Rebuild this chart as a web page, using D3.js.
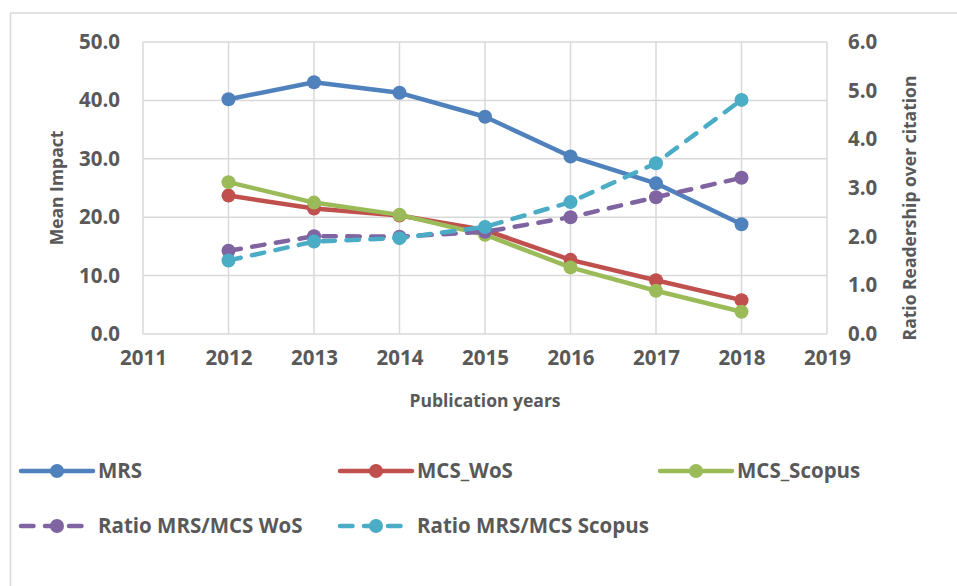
<!DOCTYPE html>
<html>
<head>
<meta charset="utf-8">
<script src="https://cdn.jsdelivr.net/npm/d3@7"></script>
<style>
  body { margin: 0; background: #fff; }
  svg { display: block; font-family: "Open Sans", sans-serif; }
  .tick text { fill: #595959; font-weight: 700; }
</style>
</head>
<body>
<div id="chart"></div>
<script>
(function() {
  // values
  var years = [2012, 2013, 2014, 2015, 2016, 2017, 2018];
  var mrs = [40.2, 43.1, 41.3, 37.2, 30.4, 25.8, 18.8];
  var mcsWos = [23.7, 21.5, 20.3, 17.8, 12.7, 9.2, 5.8];
  var mcsScopus = [26.0, 22.5, 20.4, 17.0, 11.4, 7.4, 3.8];
  var ratioWos = [1.71, 2.01, 2.0, 2.10, 2.40, 2.81, 3.21];
  var ratioScopus = [1.51, 1.90, 1.97, 2.20, 2.71, 3.51, 4.81];
  var xTicks = [2011, 2012, 2013, 2014, 2015, 2016, 2017, 2018, 2019];
  var leftTicks = [0, 10, 20, 30, 40, 50];
  var rightTicks = [0, 1, 2, 3, 4, 5, 6];

  var series = [
    { name: 'MRS', values: mrs, axis: 'left', color: '#4F81BD', dash: false },
    { name: 'MCS_WoS', values: mcsWos, axis: 'left', color: '#C0504D', dash: false },
    { name: 'MCS_Scopus', values: mcsScopus, axis: 'left', color: '#9BBB59', dash: false },
    { name: 'Ratio MRS/MCS WoS', values: ratioWos, axis: 'right', color: '#8064A2', dash: true },
    { name: 'Ratio MRS/MCS Scopus', values: ratioScopus, axis: 'right', color: '#4BACC6', dash: true }
  ];

  var W = 957, H = 586;
  var plot = { left: 143, right: 827, top: 42, bottom: 334 };
  var grid = '#D9D9D9', textColor = '#595959';
  var tickSize = 20.5, titleSize = 17.5;

  var svg = d3.select('#chart').append('svg').attr('width', W).attr('height', H);

  // outer chart frame (runs past the bottom/right edge)
  svg.append('rect')
    .attr('x', 10.5).attr('y', 13)
    .attr('width', 1000).attr('height', 700)
    .attr('fill', 'none').attr('stroke', grid).attr('stroke-width', 1.5);

  var x = d3.scaleLinear().domain([2011, 2019]).range([plot.left, plot.right]);
  var yL = d3.scaleLinear().domain([0, 50]).range([plot.bottom, plot.top]);
  var yR = d3.scaleLinear().domain([0, 6]).range([plot.bottom, plot.top]);

  // gridlines
  var g = svg.append('g');
  g.selectAll('line.v').data(xTicks).enter().append('line')
    .attr('x1', function(d) { return x(d); }).attr('x2', function(d) { return x(d); })
    .attr('y1', plot.top).attr('y2', plot.bottom)
    .attr('stroke', grid).attr('stroke-width', 1.5);
  g.selectAll('line.h').data(leftTicks).enter().append('line')
    .attr('x1', plot.left).attr('x2', plot.right)
    .attr('y1', function(d) { return yL(d); }).attr('y2', function(d) { return yL(d); })
    .attr('stroke', grid).attr('stroke-width', 1.5);

  // axes (text only, excel style)
  var axX = svg.append('g').attr('transform', 'translate(0,' + (plot.bottom + 8) + ')')
    .call(d3.axisBottom(x).tickValues(xTicks).tickFormat(d3.format('d')).tickSize(0).tickPadding(8));
  var axL = svg.append('g').attr('transform', 'translate(' + (plot.left - 23) + ',0)')
    .call(d3.axisLeft(yL).tickValues(leftTicks).tickFormat(d3.format('.1f')).tickSize(0).tickPadding(0));
  var axR = svg.append('g').attr('transform', 'translate(' + (plot.right + 21) + ',0)')
    .call(d3.axisRight(yR).tickValues(rightTicks).tickFormat(d3.format('.1f')).tickSize(0).tickPadding(0));
  [axX, axL, axR].forEach(function(a) {
    a.select('.domain').remove();
    a.selectAll('text').attr('font-size', tickSize).attr('font-family', '"Open Sans", sans-serif');
  });

  // axis titles
  svg.append('text')
    .attr('transform', 'translate(63,' + ((plot.top + plot.bottom) / 2) + ') rotate(-90)')
    .attr('text-anchor', 'middle').attr('fill', textColor)
    .attr('font-size', titleSize).attr('font-weight', 700)
    .text('Mean Impact');
  svg.append('text')
    .attr('transform', 'translate(916,' + ((plot.top + plot.bottom) / 2 + 20) + ') rotate(-90)')
    .attr('text-anchor', 'middle').attr('fill', textColor)
    .attr('font-size', titleSize).attr('font-weight', 700)
    .text('Ratio Readership over citation');
  svg.append('text')
    .attr('x', (plot.left + plot.right) / 2).attr('y', 407)
    .attr('text-anchor', 'middle').attr('fill', textColor)
    .attr('font-size', titleSize).attr('font-weight', 700)
    .text('Publication years');

  // series
  var lines = svg.append('g');
  series.forEach(function(s) {
    var y = s.axis === 'left' ? yL : yR;
    var pts = years.map(function(yr, i) { return [yr, s.values[i]]; });
    var line = d3.line().x(function(d) { return x(d[0]); }).y(function(d) { return y(d[1]); });
    lines.append('path').datum(pts)
      .attr('d', line).attr('fill', 'none')
      .attr('stroke', s.color).attr('stroke-width', 4.5)
      .attr('stroke-linecap', 'round').attr('stroke-linejoin', 'round')
      .attr('stroke-dasharray', s.dash ? '12.5,11.5' : null);
    lines.selectAll(null).data(pts).enter().append('circle')
      .attr('cx', function(d) { return x(d[0]); })
      .attr('cy', function(d) { return y(d[1]); })
      .attr('r', 7).attr('fill', s.color);
  });

  // legend
  var legendPos = [[21, 471], [340, 471], [660, 471], [21, 526], [340, 526]];
  var leg = svg.append('g');
  series.forEach(function(s, i) {
    var p = legendPos[i];
    var item = leg.append('g').attr('transform', 'translate(' + p[0] + ',' + p[1] + ')');
    item.append('line')
      .attr('x1', 0).attr('x2', s.dash ? 64 : 72).attr('y1', 0).attr('y2', 0)
      .attr('stroke', s.color).attr('stroke-width', 4.5)
      .attr('stroke-linecap', 'round')
      .attr('stroke-dasharray', s.dash ? '12.5,11.5' : null);
    item.append('circle').attr('cx', 36).attr('cy', 0).attr('r', 7).attr('fill', s.color);
    item.append('text')
      .attr('x', 77).attr('y', 0).attr('dy', '0.35em')
      .attr('fill', textColor).attr('font-size', tickSize).attr('font-weight', 700)
      .text(s.name);
  });
})();
</script>
</body>
</html>
